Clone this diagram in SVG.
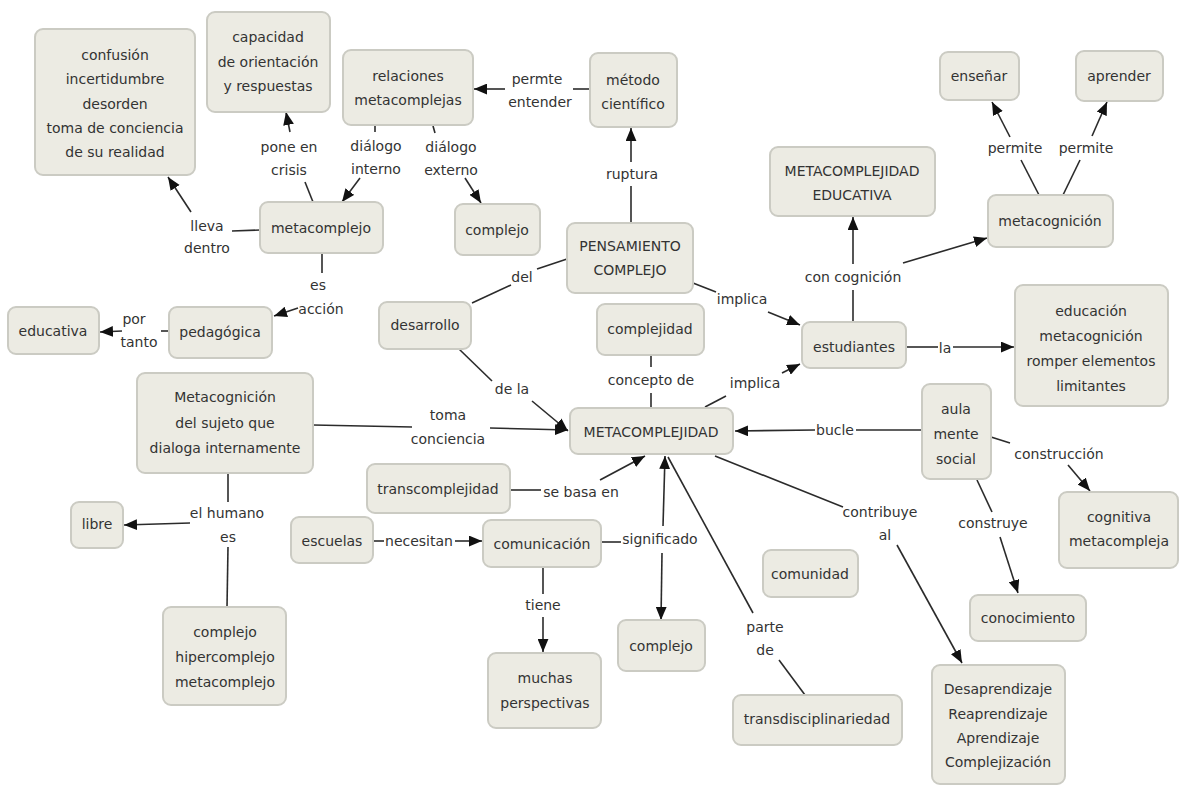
<svg xmlns="http://www.w3.org/2000/svg" width="1179" height="787" viewBox="0 0 1179 787">
<style>
.n rect{fill:#ecebe3;stroke:#cbcbc3;stroke-width:2}
text{font-family:"DejaVu Sans","Liberation Sans",sans-serif;font-size:14px;fill:#333;text-anchor:middle;dominant-baseline:central}
.c line{stroke:#2b2b2b;stroke-width:1.6}
.a{marker-end:url(#arr)}
</style>
<defs>
<marker id="arr" viewBox="0 0 12 10" refX="12" refY="5" markerWidth="13" markerHeight="11" orient="auto" markerUnits="userSpaceOnUse"><path d="M0,0 L12,5 L0,10 z" fill="#111"/></marker>
</defs>
<rect width="1179" height="787" fill="#fff"/>
<g id="connectors" class="c">
<line x1="260" y1="230" x2="232" y2="231"/>
<line class="a" x1="191" y1="212" x2="168" y2="177"/>
<line x1="313" y1="202" x2="305" y2="182"/>
<line class="a" x1="290" y1="132" x2="286" y2="112"/>
<line x1="375" y1="126" x2="375" y2="132"/>
<line class="a" x1="360" y1="178" x2="342" y2="202"/>
<line x1="433" y1="126" x2="435" y2="133"/>
<line class="a" x1="465" y1="178" x2="481" y2="203"/>
<line x1="590" y1="89" x2="573" y2="89"/>
<line class="a" x1="505" y1="89" x2="474" y2="89"/>
<line x1="631" y1="222" x2="631" y2="186"/>
<line class="a" x1="631" y1="162" x2="631" y2="128"/>
<line x1="567" y1="259" x2="537" y2="269"/>
<line x1="511" y1="285" x2="472" y2="303"/>
<line x1="459" y1="349" x2="492" y2="381"/>
<line class="a" x1="532" y1="401" x2="568" y2="431"/>
<line x1="693" y1="283" x2="716" y2="292"/>
<line class="a" x1="768" y1="312" x2="800" y2="325"/>
<line x1="705" y1="407" x2="726" y2="396"/>
<line class="a" x1="782" y1="373" x2="800" y2="364"/>
<line x1="651" y1="355" x2="651" y2="367"/>
<line x1="651" y1="393" x2="651" y2="408"/>
<line x1="853" y1="322" x2="853" y2="290"/>
<line class="a" x1="853" y1="264" x2="853" y2="217"/>
<line class="a" x1="903" y1="263" x2="987" y2="238"/>
<line x1="1039" y1="195" x2="1021" y2="160"/>
<line class="a" x1="1010" y1="137" x2="992" y2="102"/>
<line x1="1063" y1="195" x2="1080" y2="160"/>
<line class="a" x1="1092" y1="136" x2="1107" y2="102"/>
<line x1="906" y1="347" x2="938" y2="347"/>
<line class="a" x1="953" y1="347" x2="1014" y2="347"/>
<line x1="922" y1="430" x2="856" y2="430"/>
<line class="a" x1="815" y1="430" x2="735" y2="431"/>
<line x1="991" y1="437" x2="1010" y2="443"/>
<line class="a" x1="1068" y1="465" x2="1090" y2="491"/>
<line x1="977" y1="480" x2="992" y2="512"/>
<line class="a" x1="1000" y1="537" x2="1018" y2="593"/>
<line x1="715" y1="456" x2="843" y2="507"/>
<line class="a" x1="897" y1="545" x2="962" y2="663"/>
<line x1="668" y1="457" x2="753" y2="613"/>
<line x1="779" y1="660" x2="805" y2="695"/>
<line x1="601" y1="542" x2="621" y2="542"/>
<line class="a" x1="663" y1="526" x2="665" y2="456"/>
<line class="a" x1="662" y1="553" x2="661" y2="620"/>
<line x1="510" y1="490" x2="541" y2="490"/>
<line class="a" x1="600" y1="480" x2="645" y2="456"/>
<line x1="373" y1="541" x2="384" y2="541"/>
<line class="a" x1="455" y1="541" x2="482" y2="541"/>
<line x1="543" y1="567" x2="543" y2="594"/>
<line class="a" x1="543" y1="617" x2="543" y2="652"/>
<line x1="313" y1="425" x2="412" y2="427"/>
<line class="a" x1="490" y1="428" x2="568" y2="430"/>
<line x1="228" y1="473" x2="228" y2="502"/>
<line class="a" x1="190" y1="523" x2="124" y2="525"/>
<line x1="228" y1="547" x2="227" y2="607"/>
<line x1="322" y1="254" x2="322" y2="273"/>
<line class="a" x1="298" y1="308" x2="274" y2="316"/>
<line x1="169" y1="331" x2="161" y2="331"/>
<line class="a" x1="122" y1="331" x2="100" y2="332"/>
</g>
<g id="labels">
<text x="207" y="226">lleva</text><text x="207" y="248">dentro</text>
<text x="289" y="147">pone en</text><text x="289" y="170">crisis</text>
<text x="376" y="146">diálogo</text><text x="376" y="169">interno</text>
<text x="451" y="147">diálogo</text><text x="451" y="170">externo</text>
<text x="537" y="79">permte</text><text x="540" y="102">entender</text>
<text x="632" y="174">ruptura</text>
<text x="522" y="277">del</text>
<text x="512" y="389">de la</text>
<text x="742" y="299">implica</text>
<text x="755" y="383">implica</text>
<text x="651" y="380">concepto de</text>
<text x="853" y="277">con cognición</text>
<text x="1015" y="148">permite</text>
<text x="1086" y="148">permite</text>
<text x="945" y="348">la</text>
<text x="835" y="430">bucle</text>
<text x="1059" y="454">construcción</text>
<text x="993" y="523">construye</text>
<text x="880" y="512">contribuye</text><text x="885" y="535">al</text>
<text x="765" y="627">parte</text><text x="765" y="650">de</text>
<text x="660" y="539">significado</text>
<text x="581" y="492">se basa en</text>
<text x="419" y="541">necesitan</text>
<text x="543" y="605">tiene</text>
<text x="448" y="415">toma</text><text x="448" y="439">conciencia</text>
<text x="227" y="513">el humano</text><text x="228" y="537">es</text>
<text x="318" y="285">es</text><text x="321" y="309">acción</text>
<text x="134" y="319">por</text><text x="139" y="342">tanto</text>
</g>
<g id="n-confusion" class="n"><rect x="35" y="29" width="160" height="146" rx="8"/><text x="115" y="55">confusión</text><text x="115" y="79">incertidumbre</text><text x="115" y="104">desorden</text><text x="115" y="128">toma de conciencia</text><text x="115" y="152">de su realidad</text></g>
<g id="n-capacidad" class="n"><rect x="207" y="12" width="123" height="100" rx="8"/><text x="268" y="37">capacidad</text><text x="268" y="62">de orientación</text><text x="268" y="86">y respuestas</text></g>
<g id="n-relaciones" class="n"><rect x="343" y="50" width="130" height="75" rx="8"/><text x="408" y="76">relaciones</text><text x="408" y="100">metacomplejas</text></g>
<g id="n-metodo" class="n"><rect x="590" y="53" width="87" height="74" rx="8"/><text x="633" y="80">método</text><text x="633" y="104">científico</text></g>
<g id="n-complejo1" class="n"><rect x="455" y="204" width="85" height="51" rx="8"/><text x="497" y="230">complejo</text></g>
<g id="n-pensamiento" class="n"><rect x="567" y="223" width="126" height="70" rx="8"/><text x="630" y="246">PENSAMIENTO</text><text x="630" y="270">COMPLEJO</text></g>
<g id="n-metacomplejo" class="n"><rect x="260" y="202" width="123" height="51" rx="8"/><text x="321" y="228">metacomplejo</text></g>
<g id="n-metaedu" class="n"><rect x="770" y="147" width="165" height="69" rx="8"/><text x="852" y="171">METACOMPLEJIDAD</text><text x="852" y="195">EDUCATIVA</text></g>
<g id="n-ensenar" class="n"><rect x="940" y="52" width="79" height="48" rx="8"/><text x="979" y="76">enseñar</text></g>
<g id="n-aprender" class="n"><rect x="1076" y="51" width="87" height="50" rx="8"/><text x="1119" y="76">aprender</text></g>
<g id="n-metacognicion" class="n"><rect x="988" y="195" width="125" height="52" rx="8"/><text x="1050" y="221">metacognición</text></g>
<g id="n-educativa" class="n"><rect x="8" y="307" width="91" height="47" rx="8"/><text x="53" y="331">educativa</text></g>
<g id="n-pedagogica" class="n"><rect x="169" y="307" width="103" height="51" rx="8"/><text x="220" y="332">pedagógica</text></g>
<g id="n-desarrollo" class="n"><rect x="379" y="302" width="92" height="47" rx="8"/><text x="425" y="325">desarrollo</text></g>
<g id="n-complejidad" class="n"><rect x="597" y="304" width="107" height="51" rx="8"/><text x="650" y="329">complejidad</text></g>
<g id="n-estudiantes" class="n"><rect x="802" y="322" width="104" height="46" rx="8"/><text x="854" y="347">estudiantes</text></g>
<g id="n-educacion" class="n"><rect x="1015" y="285" width="153" height="121" rx="8"/><text x="1091" y="311">educación</text><text x="1091" y="336">metacognición</text><text x="1091" y="361">romper elementos</text><text x="1091" y="386">limitantes</text></g>
<g id="n-sujeto" class="n"><rect x="137" y="373" width="176" height="100" rx="8"/><text x="225" y="397">Metacognición</text><text x="225" y="423">del sujeto que</text><text x="225" y="448">dialoga internamente</text></g>
<g id="n-metacomplejidad" class="n"><rect x="570" y="408" width="163" height="46" rx="8"/><text x="651" y="432">METACOMPLEJIDAD</text></g>
<g id="n-aula" class="n"><rect x="922" y="384" width="69" height="95" rx="8"/><text x="956" y="409">aula</text><text x="956" y="434">mente</text><text x="956" y="459">social</text></g>
<g id="n-transcomplejidad" class="n"><rect x="367" y="464" width="143" height="49" rx="8"/><text x="438" y="489">transcomplejidad</text></g>
<g id="n-escuelas" class="n"><rect x="291" y="517" width="82" height="46" rx="8"/><text x="332" y="541">escuelas</text></g>
<g id="n-comunicacion" class="n"><rect x="483" y="520" width="118" height="47" rx="8"/><text x="542" y="544">comunicación</text></g>
<g id="n-libre" class="n"><rect x="71" y="502" width="52" height="46" rx="8"/><text x="97" y="524">libre</text></g>
<g id="n-hiper" class="n"><rect x="163" y="607" width="123" height="98" rx="8"/><text x="225" y="632">complejo</text><text x="225" y="657">hipercomplejo</text><text x="225" y="682">metacomplejo</text></g>
<g id="n-comunidad" class="n"><rect x="763" y="550" width="95" height="47" rx="8"/><text x="810" y="574">comunidad</text></g>
<g id="n-complejo2" class="n"><rect x="618" y="620" width="87" height="51" rx="8"/><text x="661" y="646">complejo</text></g>
<g id="n-muchas" class="n"><rect x="488" y="653" width="113" height="75" rx="8"/><text x="545" y="678">muchas</text><text x="545" y="703">perspectivas</text></g>
<g id="n-transdis" class="n"><rect x="733" y="695" width="169" height="50" rx="8"/><text x="817" y="719">transdisciplinariedad</text></g>
<g id="n-conocimiento" class="n"><rect x="970" y="595" width="116" height="46" rx="8"/><text x="1028" y="618">conocimiento</text></g>
<g id="n-cognitiva" class="n"><rect x="1059" y="492" width="119" height="76" rx="8"/><text x="1119" y="517">cognitiva</text><text x="1119" y="541">metacompleja</text></g>
<g id="n-desaprendizaje" class="n"><rect x="932" y="665" width="133" height="119" rx="8"/><text x="998" y="689">Desaprendizaje</text><text x="998" y="714">Reaprendizaje</text><text x="998" y="738">Aprendizaje</text><text x="998" y="762">Complejización</text></g>
</svg>
